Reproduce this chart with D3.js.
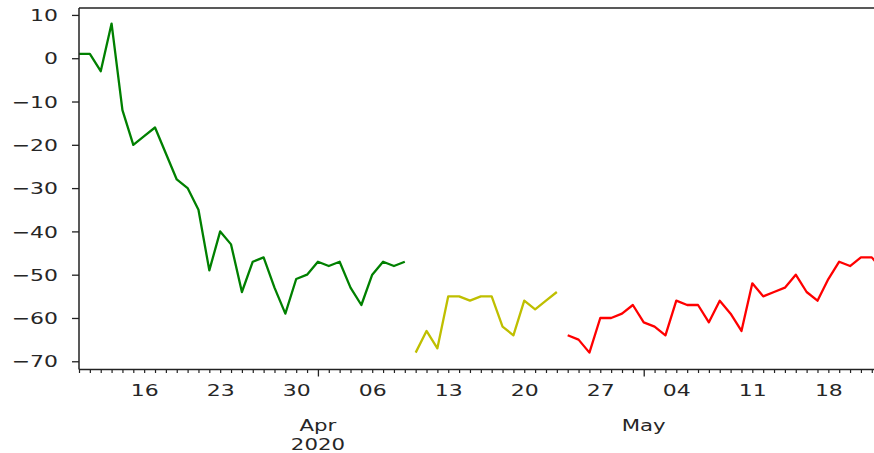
<!DOCTYPE html>
<html>
<head>
<meta charset="utf-8">
<script src="https://cdn.jsdelivr.net/npm/d3@7"></script>
<style>
  html, body { margin: 0; padding: 0; background: #fff; overflow: hidden; }
  text { font-family: "DejaVu Sans", sans-serif; fill: #262626; }
</style>
</head>
<body>
<script>
// ---- data (daily series) ----
const greenStart = "2020-03-10";
const greenValues = [1, 1, -3, 8, -12, -20, -18, -16, -22, -28, -30, -35, -49, -40, -43, -54, -47, -46, -53, -59, -51, -50, -47, -48, -47, -53, -57, -50, -47, -48, -47];
const yellowStart = "2020-04-10";
const yellowValues = [-68, -63, -67, -55, -55, -56, -55, -55, -62, -64, -56, -58, -56, -54];
const redStart = "2020-04-24";
const redValues = [-64, -65, -68, -60, -60, -59, -57, -61, -62, -64, -56, -57, -57, -61, -56, -59, -63, -52, -55, -54, -53, -50, -54, -56, -51, -47, -48, -46, -46, -49];
const yTickValues = [10, 0, -10, -20, -30, -40, -50, -60, -70];
const monthLabels = [["Apr", "2020"], ["May"]];

const parse = d3.utcParse("%Y-%m-%d");
function toSeries(start, values) {
  const s = parse(start);
  return values.map((v, i) => ({ date: d3.utcDay.offset(s, i), value: v }));
}
const green = toSeries(greenStart, greenValues);
const yellow = toSeries(yellowStart, yellowValues);
const red = toSeries(redStart, redValues);

const W = 874, H = 453;
const svg = d3.select("body").append("svg").attr("width", W).attr("height", H);

const x0 = green[0].date, x1 = red[red.length - 1].date;
const nDays = d3.utcDay.count(x0, x1);
const plotLeft = 79, pxDay = 10.86;
const x = d3.scaleUtc().domain([x0, x1]).range([plotLeft, plotLeft + nDays * pxDay]);
const plotTop = 8, plotBottom = 369.5;
const y = d3.scaleLinear().domain([-71.9, 11.6]).range([plotBottom, plotTop]);

const SX = 1.33, FS = 16.5, FSM = 16;

// lines
const line = d3.line().x(d => x(d.date)).y(d => y(d.value));
[[green, "#008000"], [yellow, "#bfbf00"], [red, "#ff0000"]].forEach(([data, c]) => {
  svg.append("path").datum(data).attr("d", line)
    .attr("fill", "none").attr("stroke", c).attr("stroke-width", 2.3)
    .attr("stroke-linejoin", "round");
});

// y axis
const yAxis = d3.axisLeft(y).tickValues(yTickValues).tickSize(7)
  .tickFormat(d => d < 0 ? "\u2212" + Math.abs(d) : String(d));
const gy = svg.append("g").attr("transform", `translate(${plotLeft},0)`).call(yAxis);
gy.select(".domain").remove();
gy.selectAll(".tick line").attr("stroke", "#222").attr("stroke-width", 1.3);
gy.selectAll(".tick text")
  .attr("font-size", FS)
  .attr("transform", `scale(${SX},1)`)
  .attr("x", -21 / SX)
  .attr("dy", "0.34em")
  .style("fill", "#262626");

// x axis: minor daily ticks, Monday labels
const allDays = d3.utcDay.range(x0, d3.utcDay.offset(x1, 1));
const monthStarts = allDays.filter(d => d.getUTCDate() === 1);
const minorDays = allDays.filter(d => d.getUTCDate() !== 1);
const gxMinor = svg.append("g").attr("transform", `translate(0,${plotBottom})`)
  .call(d3.axisBottom(x).tickValues(minorDays).tickSize(3.5)
    .tickFormat(d => d.getUTCDay() === 1 ? d3.utcFormat("%d")(d) : ""));
gxMinor.select(".domain").remove();
gxMinor.selectAll(".tick line").attr("stroke", "#222").attr("stroke-width", 1.2);
gxMinor.selectAll(".tick text")
  .attr("font-size", FS)
  .attr("transform", `scale(${SX},1)`)
  .attr("y", 15)
  .attr("dy", "0.71em")
  .style("fill", "#262626");

const gxMajor = svg.append("g").attr("transform", `translate(0,${plotBottom})`)
  .call(d3.axisBottom(x).tickValues(monthStarts).tickSize(7).tickFormat(""));
gxMajor.select(".domain").remove();
gxMajor.selectAll(".tick line").attr("stroke", "#222").attr("stroke-width", 1.3);

monthStarts.forEach((d, i) => {
  const lines = monthLabels[i] || [];
  const t = svg.append("text")
    .attr("transform", `translate(${x(d)},425.5) scale(${SX},1)`)
    .attr("text-anchor", "middle")
    .attr("font-size", FSM);
  lines.forEach((s, j) => {
    t.append("tspan").attr("x", 0).attr("y", j * 18.8).attr("dy", "0.35em").text(s);
  });
});

// spines
svg.append("line").attr("x1", plotLeft).attr("x2", plotLeft).attr("y1", plotTop).attr("y2", plotBottom)
  .attr("stroke", "#222").attr("stroke-width", 1.5);
svg.append("line").attr("x1", plotLeft).attr("x2", W + 20).attr("y1", plotBottom).attr("y2", plotBottom)
  .attr("stroke", "#222").attr("stroke-width", 1.5);
svg.append("line").attr("x1", plotLeft).attr("x2", W + 20).attr("y1", plotTop).attr("y2", plotTop)
  .attr("stroke", "#222").attr("stroke-width", 1.5);
</script>
</body>
</html>
